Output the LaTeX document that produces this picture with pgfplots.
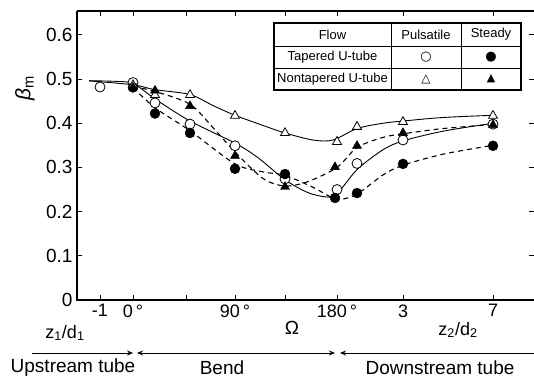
\documentclass[border=0pt]{standalone}
\usepackage{fontspec}
\setmainfont{Liberation Sans}
\newfontfamily\dejavu{DejaVu Sans}
\usepackage{pgfplots}
\pgfplotsset{compat=1.18}
\usetikzlibrary{arrows.meta}

% x = horizontal position (pt) measured from the 0 deg station
\pgfplotstableread{
x y
-33 0.482
0 0.492
22 0.446
57 0.398
102 0.349
152 0.274
204 0.250
224 0.309
270 0.362
360 0.398
}\tpmarks
\pgfplotstableread{
x y
0 0.481
22 0.422
57 0.378
102 0.297
152 0.285
202 0.231
224 0.242
270 0.308
360 0.349
}\tsmarks
\pgfplotstableread{
x y
0 0.486
22 0.464
57 0.464
102 0.417
152 0.378
204 0.358
224 0.392
270 0.403
360 0.417
}\npmarks
\pgfplotstableread{
x y
0 0.481
22 0.474
57 0.439
102 0.326
152 0.256
202 0.301
224 0.349
270 0.378
360 0.396
}\nsmarks
% fitted curves
\pgfplotstableread{
x y
-44 0.496
-20 0.495
0 0.490
22 0.455
57 0.405
102 0.355
125 0.322
152 0.272
175 0.243
194 0.233
204 0.240
224 0.295
250 0.340
270 0.360
310 0.382
360 0.400
}\tpcurve
\pgfplotstableread{
x y
0 0.481
22 0.435
57 0.383
102 0.308
130 0.290
152 0.282
180 0.255
204 0.228
224 0.240
250 0.283
270 0.305
310 0.330
360 0.350
}\tscurve
\pgfplotstableread{
x y
-44 0.496
0 0.487
22 0.476
57 0.465
80 0.440
102 0.418
130 0.395
152 0.378
180 0.362
200 0.362
224 0.388
250 0.400
270 0.405
310 0.413
360 0.418
}\npcurve
\pgfplotstableread{
x y
0 0.483
22 0.472
57 0.443
80 0.390
102 0.335
130 0.275
152 0.258
175 0.268
204 0.300
224 0.345
250 0.368
270 0.376
310 0.388
360 0.397
}\nscurve

\begin{document}
\begin{tikzpicture}[x=1pt,y=1pt]
\path[use as bounding box] (-77,-80) rectangle (457,300);
\begin{axis}[at={(0,0)}, anchor=south west, scale only axis,
  width=457pt, height=289pt,
  xmin=-56, xmax=401, ymin=0, ymax=0.654,
  axis line style={draw=none},
  xtick={-33,0,53,102,152,204,270,360},
  xticklabels={-1,0\,°,,90\,°,,180\,°,3,7},
  ytick={0,0.1,0.2,0.3,0.4,0.5,0.6},
  yticklabels={0,0.1,0.2,0.3,0.4,0.5,0.6},
  tick style={black, line width=0.8pt}, major tick length=5pt,
  tick align=inside,
  /pgf/number format/assume math mode=true,
  xticklabel style={font=\fontsize{18}{18}\selectfont, yshift=-1pt},
  yticklabel style={font=\fontsize{19}{19}\selectfont, xshift=-1pt},
  clip=false,
]
\addplot[black, line width=0.9pt, smooth] table {\tpcurve};
\addplot[black, line width=0.9pt, smooth] table {\npcurve};
\addplot[black, line width=1.1pt, dash pattern=on 5pt off 4pt, smooth] table {\tscurve};
\addplot[black, line width=1.1pt, dash pattern=on 5pt off 4pt, smooth] table {\nscurve};
\addplot[only marks, mark=*, mark size=5pt, mark options={fill=white, draw=black, line width=0.8pt}] table {\tpmarks};
\addplot[only marks, mark=*, mark size=5pt, mark options={fill=black, draw=black}] table {\tsmarks};
\addplot[only marks, mark=triangle*, mark size=5.2pt, mark options={fill=white, draw=black, line width=0.8pt}] table {\npmarks};
\addplot[only marks, mark=triangle*, mark size=5.2pt, mark options={fill=black, draw=black}] table {\nsmarks};
\draw[line width=1.2pt] (rel axis cs:0,1) -- (rel axis cs:0,0) -- (rel axis cs:1,0);
\draw[line width=1.2pt] (rel axis cs:0,1) -- (rel axis cs:1,1);
\draw[line width=0.4pt, black!25] (rel axis cs:1,0) -- (rel axis cs:1,1);
\end{axis}
% axis label
\node[rotate=90, font=\fontsize{21}{21}\selectfont] at (-52,212) {\textit{β}\textsubscript{m}};
% extra x labels
\node[font=\fontsize{18}{18}\selectfont] at (-12,-33) {z\textsubscript{1}/d\textsubscript{1}};
\node[font=\fontsize{19}{19}\selectfont] at (215,-28) {Ω};
\node[font=\fontsize{18}{18}\selectfont] at (381,-30) {z\textsubscript{2}/d\textsubscript{2}};
% region arrows
\draw[line width=0.8pt, -{Stealth[length=6pt,width=5pt]}] (-45,-53) -- (56,-53);
\draw[line width=0.8pt, {Stealth[length=6pt,width=5pt]}-{Stealth[length=6pt,width=5pt]}] (60,-53) -- (258,-53);
\draw[line width=0.8pt, {Stealth[length=6pt,width=5pt]}-] (263,-53) -- (457,-53);
\node[font=\fontsize{19}{19}\selectfont] at (-4,-68) {Upstream tube};
\node[font=\fontsize{19}{19}\selectfont] at (145,-68) {Bend};
\node[font=\fontsize{19}{19}\selectfont] at (363,-68) {Downstream tube};
% legend table
\fill[white] (197,210) rectangle (444,277);
\draw[line width=0.6pt] (197,254) -- (444,254) (197,232) -- (444,232)
  (314,210) -- (314,277) (384,210) -- (384,277);
\draw[line width=1.3pt] (197,210) rectangle (444,277);
\begin{scope}[every node/.style={font=\fontsize{13}{13}\selectfont}]
\node at (255.5,265.5) {Flow};
\node at (349,265.5) {Pulsatile};
\node at (414,265.5) {Steady};
\node at (255.5,243) {Tapered U-tube};
\node at (255.5,221) {Nontapered U-tube};
\node at (349,243) {\dejavu\fontsize{13}{13}\selectfont ○};
\node at (414,243) {\dejavu\fontsize{13}{13}\selectfont ●};
\node at (349,221) {\dejavu\fontsize{12}{12}\selectfont △};
\node at (414,221) {\dejavu\fontsize{11}{11}\selectfont ▲};
\end{scope}
\end{tikzpicture}
\end{document}
